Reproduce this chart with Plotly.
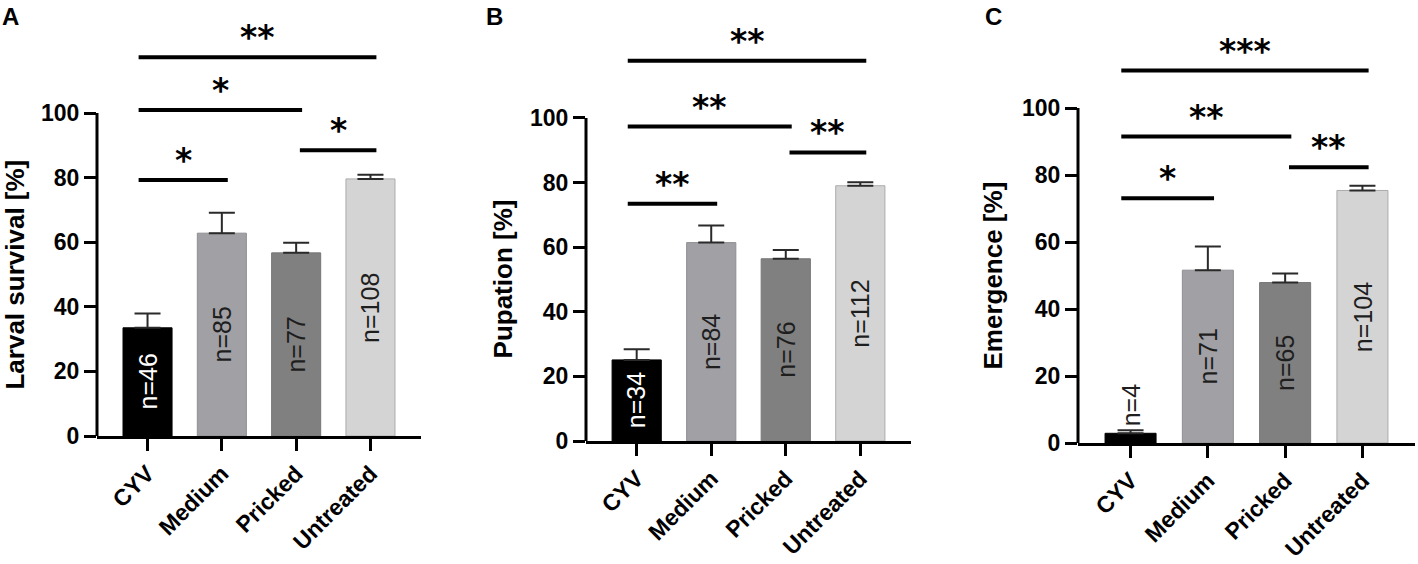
import plotly.graph_objects as go

# groups and values
groups = ["CYV", "Medium", "Pricked", "Untreated"]

larval_mean = [33.5, 62.8, 56.7, 79.6]
larval_err = [4.4, 6.3, 3.1, 1.3]
larval_n = [46, 85, 77, 108]

pupation_mean = [25.1, 61.4, 56.4, 79.0]
pupation_err = [3.3, 5.3, 2.7, 1.1]
pupation_n = [34, 84, 76, 112]

emergence_mean = [2.9, 51.6, 47.9, 75.4]
emergence_err = [0.9, 7.1, 2.7, 1.4]
emergence_n = [4, 71, 65, 104]

# significance brackets (group index pairs), their heights and labels
sig_pairs = [(0, 3), (0, 2), (2, 3), (0, 1)]
larval_sig_y = [117.3, 100.9, 88.5, 79.3]
larval_stars = ["**", "*", "*", "*"]
pupation_sig_y = [117.7, 97.3, 89.3, 73.4]
pupation_stars = ["**", "**", "**", "**"]
emergence_sig_y = [111.2, 91.5, 82.3, 73.1]
emergence_stars = ["***", "**", "**", "*"]

bar_colors = ["#000000", "#a0a0a5", "#808080", "#d4d4d4"]
edge_colors = ["#000000", "#8f8f93", "#767676", "#ababab"]
label_colors = ["#ffffff", "#1e1e1e", "#1e1e1e", "#1e1e1e"]

W, H = 1418, 564
FONT = "Liberation Sans, Arial, sans-serif"

panels = [
    dict(letter="A", title="Larval survival [%]", mean=larval_mean, err=larval_err, n=larval_n,
         sig_y=larval_sig_y, stars=larval_stars,
         x0=97, x1=421, y0=436, ytop=128.8, title_x=15, letter_x=10),
    dict(letter="B", title="Pupation [%]", mean=pupation_mean, err=pupation_err, n=pupation_n,
         sig_y=pupation_sig_y, stars=pupation_stars,
         x0=586, x1=911, y0=441, ytop=130.3, title_x=503, letter_x=494),
    dict(letter="C", title="Emergence [%]", mean=emergence_mean, err=emergence_err, n=emergence_n,
         sig_y=emergence_sig_y, stars=emergence_stars,
         x0=1078, x1=1415, y0=443, ytop=126.3, title_x=993, letter_x=993),
]

fig = go.Figure()
shapes = []
annotations = []

for k, p in enumerate(panels):
    sfx = "" if k == 0 else str(k + 1)
    xa, ya = "x" + sfx, "y" + sfx

    fig.add_trace(go.Bar(
        x=list(range(len(groups))),
        y=p["mean"],
        width=0.66,
        marker=dict(color=bar_colors, line=dict(color=edge_colors, width=1)),
        error_y=dict(type="data", array=p["err"], arrayminus=[0] * len(groups),
                     symmetric=False, color="#2a2a2a", thickness=2, width=13),
        xaxis=xa, yaxis=ya,
        showlegend=False,
        hoverinfo="skip",
    ))

    fig.layout["xaxis" + sfx] = dict(
        domain=[p["x0"] / W, p["x1"] / W],
        range=[-0.68, 3.68],
        anchor=ya,
        automargin=False,
        tickmode="array",
        tickvals=list(range(len(groups))),
        ticktext=groups,
        tickangle=-45,
        tickfont=dict(family=FONT, size=23, color="black", weight="bold"),
        ticks="outside", ticklen=12, tickwidth=3, tickcolor="black",
        showline=True, linewidth=3, linecolor="black",
        showgrid=False, zeroline=False, fixedrange=True,
    )
    fig.layout["yaxis" + sfx] = dict(
        domain=[(H - p["y0"]) / H, (H - 20) / H],
        range=[0, p["ytop"]],
        anchor=xa,
        automargin=False,
        tickmode="array",
        tickvals=[0, 20, 40, 60, 80, 100],
        tickfont=dict(family=FONT, size=23, color="black", weight="bold"),
        ticks="outside", ticklen=12, tickwidth=3, tickcolor="black",
        showline=False, showgrid=False, zeroline=False, fixedrange=True,
    )

    # y axis line only up to 100
    shapes.append(dict(type="line", xref=xa + " domain", yref=ya, x0=0, x1=0, y0=0, y1=100,
                       line=dict(color="black", width=3)))

    # significance brackets
    for (i, j), yv, st in zip(sig_pairs, p["sig_y"], p["stars"]):
        lx0 = i - 0.12 if i == 0 else i + 0.05
        lx1 = j + 0.08
        shapes.append(dict(type="line", xref=xa, yref=ya, x0=lx0, x1=lx1, y0=yv, y1=yv,
                           line=dict(color="black", width=4)))
        annotations.append(dict(x=(lx0 + lx1) / 2, y=yv, xref=xa, yref=ya, text=st,
                                showarrow=False, xanchor="center", yanchor="bottom", yshift=-2,
                                font=dict(family="DejaVu Sans", size=33, color="black", weight="bold")))

    # n labels inside bars (outside when the bar is too short)
    for i, (m, e, nn) in enumerate(zip(p["mean"], p["err"], p["n"])):
        if m < 10:
            annotations.append(dict(x=i, y=m + e, xref=xa, yref=ya, text=f"n={nn}", textangle=-90,
                                    showarrow=False, xanchor="center", yanchor="bottom", yshift=2,
                                    font=dict(family=FONT, size=25, color="#1e1e1e")))
        else:
            annotations.append(dict(x=i, y=m / 2, xref=xa, yref=ya, text=f"n={nn}", textangle=-90,
                                    showarrow=False, xanchor="center", yanchor="middle",
                                    font=dict(family=FONT, size=25, color=label_colors[i])))

    # y axis title centred on the 0-100 span
    annotations.append(dict(x=p["title_x"] / W, y=50, xref="paper", yref=ya, text=p["title"],
                            textangle=-90, showarrow=False, xanchor="center", yanchor="middle",
                            font=dict(family=FONT, size=26, color="black", weight="bold")))

    # panel letter
    annotations.append(dict(x=p["letter_x"] / W, y=1 - 16 / H, xref="paper", yref="paper",
                            text=p["letter"], showarrow=False, xanchor="center", yanchor="middle",
                            font=dict(family=FONT, size=24, color="black", weight="bold")))

fig.update_layout(
    width=W, height=H,
    margin=dict(l=0, r=0, t=0, b=0),
    paper_bgcolor="white", plot_bgcolor="white",
    bargap=0.34,
    shapes=shapes,
    annotations=annotations,
)

# drop the default page margin so the figure sits at the window corner
fig.write_html("out.html", config={"displayModeBar": False},
               post_script="document.body.style.margin='0';")
